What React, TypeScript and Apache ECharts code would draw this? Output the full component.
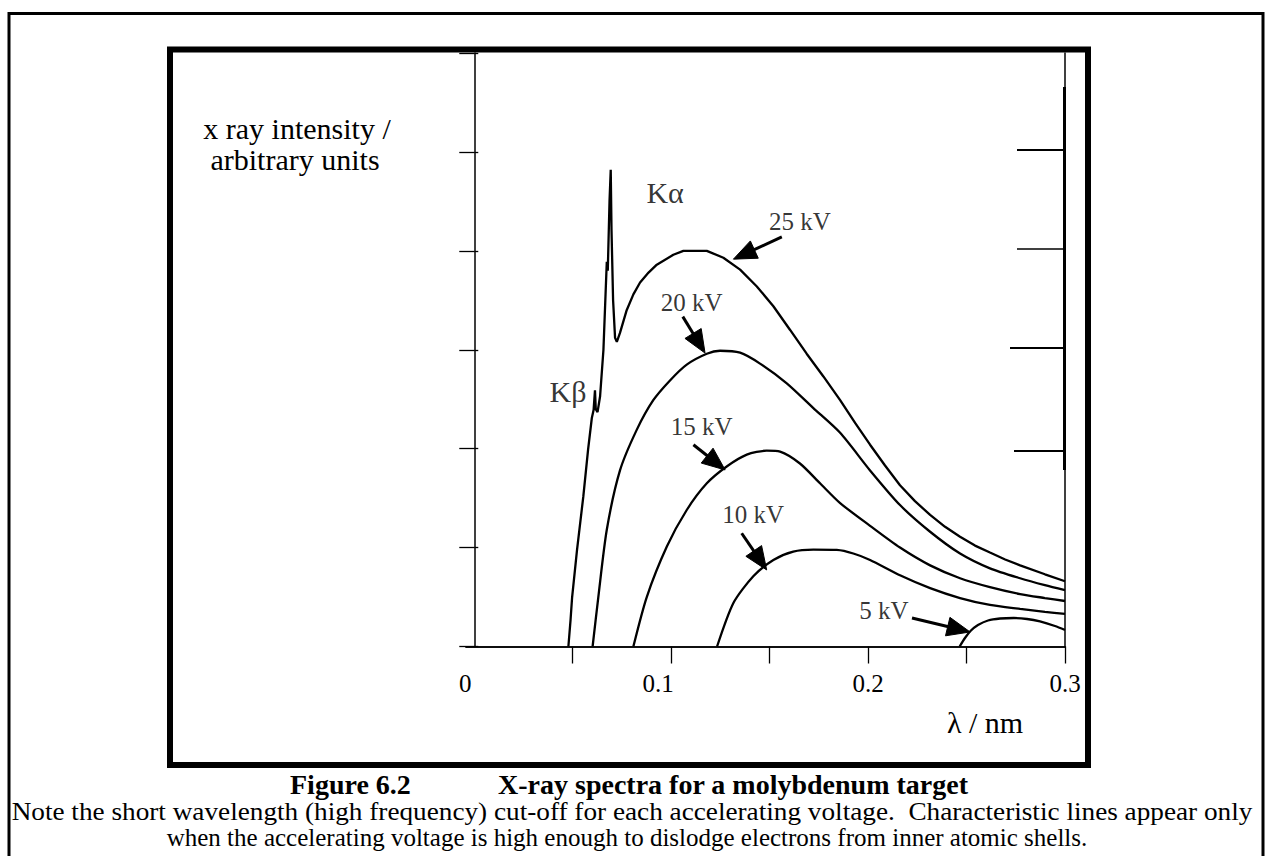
import React, { useEffect, useRef } from "react";
import * as echarts from "echarts";

const FONT = '"Liberation Serif", "Times New Roman", serif';

// ---- axes ----
const xMin = -0.0042;
const xMax = 0.3;
const xTickValues = [0.05, 0.1, 0.15, 0.2, 0.25, 0.3];
const xLabelValues = [0, 0.1, 0.2, 0.3];
const xLabelTexts = ["0", "0.1", "0.2", "0.3"];
const yMin = 0;
const yMax = 6;
const yInterval = 1;

// ---- spectra (λ in nm, intensity in arbitrary units) ----
const seriesNames = ["25 kV", "20 kV", "15 kV", "10 kV", "5 kV"];
const kv25 = [
  [0.0478, 0], [0.0489, 0.27], [0.0497, 0.5], [0.0522, 0.98], [0.0554, 1.52],
  [0.0578, 1.99], [0.0597, 2.31], [0.0606, 2.39], [0.0613, 2.59], [0.0617, 2.4],
  [0.0626, 2.37], [0.0639, 2.53], [0.0656, 3.0], [0.0673, 3.89], [0.0678, 3.8],
  [0.0687, 4.51], [0.0693, 4.82], [0.0697, 4.21], [0.0705, 3.5], [0.0715, 3.12],
  [0.0724, 3.08], [0.074, 3.17], [0.0774, 3.4], [0.0808, 3.56], [0.0842, 3.68],
  [0.0885, 3.78], [0.0927, 3.86], [0.1011, 3.96], [0.1062, 4.0], [0.1181, 4.0],
  [0.1265, 3.93], [0.135, 3.81], [0.1435, 3.64], [0.1519, 3.44], [0.1604, 3.2],
  [0.1688, 2.96], [0.1773, 2.73], [0.1858, 2.49], [0.1934, 2.26], [0.201, 2.04],
  [0.2086, 1.83], [0.2162, 1.63], [0.2238, 1.47], [0.2315, 1.33], [0.2391, 1.21],
  [0.2467, 1.11], [0.2543, 1.02], [0.2619, 0.95], [0.2696, 0.88], [0.2772, 0.82],
  [0.2898, 0.73], [0.3, 0.66],
];
const kv20 = [
  [0.0601, 0], [0.063, 0.5], [0.0673, 1.18], [0.074, 1.78], [0.0825, 2.19],
  [0.0909, 2.49], [0.0994, 2.69], [0.1079, 2.85], [0.1181, 2.96], [0.1248, 2.99],
  [0.135, 2.97], [0.1451, 2.86], [0.1587, 2.66], [0.1722, 2.41], [0.1858, 2.16],
  [0.201, 1.78], [0.2162, 1.43], [0.2315, 1.16], [0.2467, 0.94], [0.2619, 0.79],
  [0.2772, 0.69], [0.2898, 0.62], [0.3, 0.57],
];
const kv15 = [
  [0.0808, 0], [0.0876, 0.5], [0.0978, 1.01], [0.1079, 1.38], [0.1181, 1.65],
  [0.1282, 1.82], [0.1384, 1.94], [0.1485, 1.98], [0.1553, 1.97], [0.1654, 1.85],
  [0.1756, 1.65], [0.1858, 1.45], [0.201, 1.22], [0.2162, 1.0], [0.2315, 0.82],
  [0.2467, 0.69], [0.2619, 0.6], [0.2772, 0.53], [0.2898, 0.49], [0.3, 0.46],
];
const kv10 = [
  [0.1233, 0], [0.1316, 0.44], [0.1417, 0.71], [0.1519, 0.875], [0.162, 0.96],
  [0.1722, 0.98], [0.1841, 0.976], [0.1925, 0.94], [0.201, 0.875], [0.2162, 0.72],
  [0.2315, 0.59], [0.2467, 0.49], [0.2619, 0.42], [0.2772, 0.38], [0.2898, 0.35],
  [0.3, 0.33],
];
const kv5 = [
  [0.2465, 0], [0.2492, 0.086], [0.252, 0.157], [0.2558, 0.217], [0.2609, 0.263],
  [0.267, 0.283], [0.274, 0.288], [0.2807, 0.278], [0.2873, 0.253], [0.2949, 0.207],
  [0.3, 0.167],
];
const spectra = [kv25, kv20, kv15, kv10, kv5];
const smoothing = [false, 0.25, 0.25, 0.25, 0.25];

// ---- annotations (data coordinates) ----
const annoTexts = ["25 kV", "20 kV", "15 kV", "10 kV", "5 kV"];
const annoLabelPos = [[0.1654, 4.3], [0.1104, 3.48], [0.1155, 2.22], [0.1416, 1.33], [0.208, 0.36]];
const arrowFrom = [[0.1562, 4.14], [0.1059, 3.335], [0.1113, 2.04], [0.1358, 1.145], [0.2223, 0.288]];
const arrowTip = [[0.1316, 3.916], [0.1172, 2.966], [0.1274, 1.785], [0.1485, 0.774], [0.2518, 0.147]];
const peakTexts = ["Kα", "Kβ"];
const peakLabelPos = [[0.0969, 4.585], [0.0476, 2.575]];

const yTitle = ["x ray intensity /", "arbitrary units"];
const xTitle = "λ / nm";
const figTitleA = "Figure 6.2";
const figTitleB = "X-ray spectra for a molybdenum target";
const noteLines = [
  "Note the short wavelength (high frequency) cut-off for each accelerating voltage.  Characteristic lines appear only",
  "when the accelerating voltage is high enough to dislodge electrons from inner atomic shells.",
];

export default function App() {
  const ref = useRef<HTMLDivElement>(null);
  useEffect(() => {
    const chart = echarts.init(ref.current!, null, { renderer: "svg" });
    const rich: any = {};
    xLabelTexts.forEach((_, i) => {
      rich["s" + i] = {
        fontFamily: FONT,
        fontSize: 25,
        color: "#000",
        padding: i === 0 ? [0, 18, 0, 0] : i === 1 ? [0, 26, 0, 0] : [0, 0, 0, 0],
      };
    });
    const lineSeries = spectra.map((d, i) => ({
      name: seriesNames[i],
      type: "line",
      data: d,
      symbol: "none",
      smooth: smoothing[i],
      lineStyle: { color: "#000", width: 2.3 },
      z: 3,
    }));
    const textSeries = {
      type: "scatter",
      symbolSize: 0,
      data: [
        ...annoTexts.map((t, i) => ({ name: t, value: annoLabelPos[i] })),
        ...peakTexts.map((t, i) => ({
          name: t,
          value: peakLabelPos[i],
          label: { fontSize: 30 },
        })),
      ],
      label: {
        show: true,
        position: "inside",
        formatter: (p: any) => p.name,
        fontFamily: FONT,
        fontSize: 25,
        color: "#000",
      },
      silent: true,
      z: 5,
    };
    const arrowSeries = {
      type: "custom",
      coordinateSystem: "cartesian2d",
      silent: true,
      z: 4,
      data: arrowFrom.map((f, i) => [f[0], f[1], arrowTip[i][0], arrowTip[i][1]]),
      encode: { x: [0, 2], y: [1, 3] },
      renderItem: (_params: any, api: any) => {
        const p0 = api.coord([api.value(0), api.value(1)]);
        const p1 = api.coord([api.value(2), api.value(3)]);
        const dx = p1[0] - p0[0];
        const dy = p1[1] - p0[1];
        const len = Math.hypot(dx, dy) || 1;
        const ux = dx / len;
        const uy = dy / len;
        const L = 23;
        const W = 9.5;
        const bx = p1[0] - ux * L;
        const by = p1[1] - uy * L;
        return {
          type: "group",
          children: [
            {
              type: "line",
              shape: { x1: p0[0], y1: p0[1], x2: bx + ux * 3, y2: by + uy * 3 },
              style: { stroke: "#000", lineWidth: 3 },
            },
            {
              type: "polygon",
              shape: {
                points: [
                  [p1[0], p1[1]],
                  [bx - uy * W, by + ux * W],
                  [bx + uy * W, by - ux * W],
                ],
              },
              style: { fill: "#000", stroke: "#000", lineWidth: 1 },
            },
          ],
        };
      },
    };

    const txt = (
      text: string,
      x: number,
      y: number,
      size: number,
      align = "center",
      weight = "normal",
      scaleX = 1
    ) => ({
      type: "text",
      x,
      y,
      scaleX,
      silent: true,
      style: {
        text,
        font: `${weight} ${size}px ${FONT}`,
        fill: "#000",
        textAlign: align,
        textVerticalAlign: "middle",
      },
    });

    chart.setOption({
      animation: false,
      backgroundColor: "#fff",
      grid: { left: 466, top: 53, right: 202, bottom: 209.5, containLabel: false },
      xAxis: [
        {
          type: "value",
          min: xMin,
          max: xMax,
          axisLine: { show: true, lineStyle: { color: "#000", width: 1.5 } },
          axisTick: { show: true, customValues: xTickValues, length: 17, lineStyle: { color: "#000", width: 1.3 } },
          axisLabel: {
            show: true,
            customValues: xLabelValues,
            margin: 24,
            fontFamily: FONT,
            fontSize: 25,
            color: "#000",
            formatter: (v: number) => {
              const i = xLabelValues.findIndex((x) => Math.abs(x - v) < 1e-9);
              return i < 0 ? "" : `{s${i}|${xLabelTexts[i]}}`;
            },
            rich,
          },
          splitLine: { show: false },
        },
        {
          type: "value",
          position: "top",
          min: xMin,
          max: xMax,
          axisLine: { show: true, lineStyle: { color: "#000", width: 1.5 } },
          axisTick: { show: false },
          axisLabel: { show: false },
          splitLine: { show: false },
        },
      ],
      yAxis: [
        {
          type: "value",
          min: yMin,
          max: yMax,
          interval: yInterval,
          axisLine: { show: true, lineStyle: { color: "#000", width: 1.5 } },
          axisTick: { show: true, length: 15, lineStyle: { color: "#000", width: 1.3 } },
          axisLabel: { show: false },
          splitLine: { show: false },
        },
        {
          type: "value",
          position: "left",
          min: yMin,
          max: yMax,
          interval: yInterval,
          axisLine: { show: false },
          axisTick: { show: true, inside: true, length: 4, lineStyle: { color: "#000", width: 1.3 } },
          axisLabel: { show: false },
          splitLine: { show: false },
        },
        {
          type: "value",
          position: "right",
          min: yMin,
          max: yMax,
          axisLine: { show: true, lineStyle: { color: "#000", width: 1.5 } },
          axisTick: { show: false },
          axisLabel: { show: false },
          splitLine: { show: false },
        },
      ],
      series: [...lineSeries, textSeries, arrowSeries],
      graphic: [
        { type: "rect", silent: true, shape: { x: 9, y: 13.5, width: 1254, height: 900 }, style: { fill: "none", stroke: "#000", lineWidth: 3 } },
        { type: "rect", silent: true, shape: { x: 170, y: 49.5, width: 918, height: 715.5 }, style: { fill: "none", stroke: "#000", lineWidth: 6 } },
        // right-hand scale remnants
        { type: "line", silent: true, shape: { x1: 1064.5, y1: 87, x2: 1064.5, y2: 470 }, style: { stroke: "#000", lineWidth: 3 } },
        { type: "line", silent: true, shape: { x1: 1017, y1: 150, x2: 1064, y2: 150 }, style: { stroke: "#000", lineWidth: 2 } },
        { type: "line", silent: true, shape: { x1: 1017, y1: 249, x2: 1064, y2: 249 }, style: { stroke: "#000", lineWidth: 1.5 } },
        { type: "line", silent: true, shape: { x1: 1010, y1: 348, x2: 1064, y2: 348 }, style: { stroke: "#000", lineWidth: 2 } },
        { type: "line", silent: true, shape: { x1: 1014, y1: 451, x2: 1064, y2: 451 }, style: { stroke: "#000", lineWidth: 2 } },
        txt(yTitle[0], 297, 128, 30),
        txt(yTitle[1], 295, 159, 30),
        txt(xTitle, 985, 722, 30),
        txt(figTitleA, 290, 784, 28, "left", "bold"),
        txt(figTitleB, 968, 784, 28, "right", "bold"),
        txt(noteLines[0], 632, 812, 25, "center", "normal", 1.09),
        txt(noteLines[1], 627, 837, 25, "center", "normal", 1.0),
      ],
    });
    return () => chart.dispose();
  }, []);
  return (
    <div
      ref={ref}
      style={{ position: "fixed", left: 0, top: 0, width: 1267, height: 856, background: "#fff" }}
    />
  );
}
